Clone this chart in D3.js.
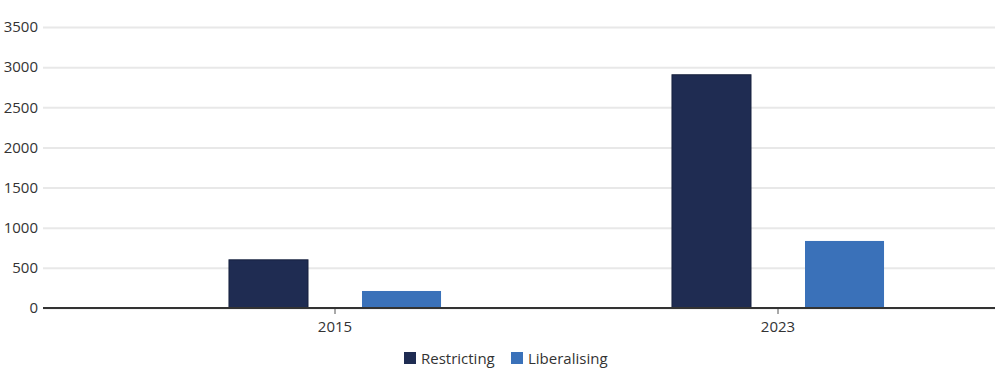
<!DOCTYPE html>
<html>
<head>
    <meta charset="utf-8">
    <style>
        body {
            margin: 0;
            background: #fff;
            font-family: 'Open Sans', Lato, Arial, sans-serif;
        }

        svg {
            display: block;
        }

        .y .tick line {
            stroke: #e8e8e8;
            stroke-width: 2;
        }

        .y .domain {
            display: none;
        }

        .y .tick text,
        .x .tick text {
            font-family: 'Open Sans', Lato, Arial, sans-serif;
            font-size: 15px;
            fill: #333;
        }

        .x .domain {
            display: none;
        }

        .x .tick line {
            stroke: #555;
        }

        .legend text {
            font-size: 15px;
            fill: #333;
        }
    </style>
</head>

<body>
    <svg width="1000" height="371"></svg>

    <script src="https://d3js.org/d3.v7.min.js"></script>
    <script>
        // data
        let years = ["2015", "2023"];
        let seriesNames = ["Restricting", "Liberalising"];
        let restricting = [600, 2905];
        let liberalising = [212, 835];
        let yTicks = [0, 500, 1000, 1500, 2000, 2500, 3000, 3500];
        let colors = ["#1f2c52", "#3a71b9"];

        let svg = d3.select("svg");

        let margin = { top: 27, right: 5, bottom: 63, left: 43 };
        let width = 1000;
        let height = 371;

        let rows = years.map((yr, i) => ({
            year: yr,
            values: [restricting[i], liberalising[i]]
        }));

        let y = d3.scaleLinear()
            .domain([0, 3500])
            .range([height - margin.bottom, margin.top]);

        let x0 = d3.scaleBand()
            .domain(years)
            .range([113.5, 999.5])
            .padding(0);

        let x1 = d3.scaleBand()
            .domain(seriesNames)
            .range([0, x0.bandwidth()])
            .paddingInner(0.406)
            .paddingOuter(0.868);

        // gridlines + y labels
        svg.append("g")
            .attr("class", "y axis")
            .attr("transform", `translate(${margin.left},0)`)
            .call(d3.axisLeft(y)
                .tickValues(yTicks)
                .tickSize(-(width - margin.right - margin.left))
                .tickPadding(5)
                .tickFormat(d3.format("d")));

        // bars
        let groups = svg.append("g")
            .selectAll("g")
            .data(rows)
            .join("g")
            .attr("transform", d => `translate(${x0(d.year)},0)`);

        groups.selectAll("rect")
            .data(d => d.values.map((v, i) => ({ key: seriesNames[i], value: v, i: i })))
            .join("rect")
            .attr("x", d => x1(d.key))
            .attr("width", x1.bandwidth())
            .attr("y", d => y(d.value))
            .attr("height", d => y(0) - y(d.value))
            .style("fill", d => colors[d.i])
            .style("stroke", d => d.i == 0 ? "#16203d" : "none")
            .style("stroke-width", 1);

        // x axis
        svg.append("g")
            .attr("class", "x axis")
            .attr("transform", `translate(0,${y(0)})`)
            .call(d3.axisBottom(x0).tickSize(6).tickPadding(7));

        svg.append("line")
            .attr("x1", margin.left)
            .attr("x2", width - margin.right)
            .attr("y1", y(0))
            .attr("y2", y(0))
            .style("stroke", "#333")
            .style("stroke-width", 2);

        // legend
        let legend = svg.append("g")
            .attr("class", "legend")
            .attr("transform", "translate(404,352)");

        let legendX = [0, 107];

        seriesNames.forEach((name, i) => {
            legend.append("rect")
                .attr("x", legendX[i])
                .attr("y", 0)
                .attr("width", 12)
                .attr("height", 12)
                .style("fill", colors[i]);

            legend.append("text")
                .attr("x", legendX[i] + 17)
                .attr("y", 11.5)
                .text(name);
        });
    </script>
</body>
</html>
